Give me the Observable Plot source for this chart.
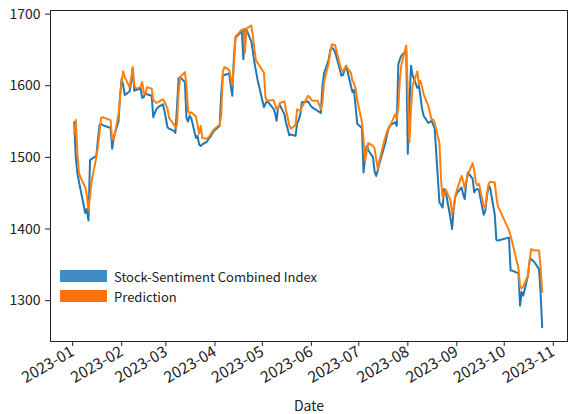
<!DOCTYPE html>
<html>
<head>
<meta charset="utf-8">
<script src="https://cdn.jsdelivr.net/npm/d3@7"></script>
<script src="https://cdn.jsdelivr.net/npm/@observablehq/plot@0.6"></script>
<style>
  html, body { margin: 0; padding: 0; background: #fff; }
  #wrap { position: relative; width: 572px; height: 414px; font-family: "Noto Sans CJK KR", "Noto Sans", sans-serif; }
  #legend { position: absolute; left: 60px; top: 266px; font-size: 13px; color: #222; }
  .item { display: flex; align-items: center; height: 20px; }
  .sw { width: 47px; height: 12px; margin-right: 7px; }
</style>
</head>
<body>
<div id="wrap">
  <div id="chart"></div>
  <div id="legend"></div>
</div>
<script>
const dates = [
"2023-01-02","2023-01-03","2023-01-04","2023-01-05","2023-01-06","2023-01-09","2023-01-10","2023-01-11","2023-01-12","2023-01-13",
"2023-01-16","2023-01-17","2023-01-18","2023-01-19","2023-01-20","2023-01-25","2023-01-26","2023-01-27","2023-01-30","2023-01-31",
"2023-02-01","2023-02-02","2023-02-03","2023-02-06","2023-02-07","2023-02-08","2023-02-09","2023-02-10","2023-02-13","2023-02-14",
"2023-02-15","2023-02-16","2023-02-17","2023-02-20","2023-02-21","2023-02-22","2023-02-23","2023-02-24","2023-02-27","2023-02-28",
"2023-03-02","2023-03-03","2023-03-06","2023-03-07","2023-03-08","2023-03-09","2023-03-10","2023-03-13","2023-03-14","2023-03-15",
"2023-03-16","2023-03-17","2023-03-20","2023-03-21","2023-03-22","2023-03-23","2023-03-24","2023-03-27","2023-03-28","2023-03-29",
"2023-03-30","2023-03-31",
"2023-04-03","2023-04-04","2023-04-05","2023-04-06","2023-04-07","2023-04-10","2023-04-11","2023-04-12","2023-04-13","2023-04-14",
"2023-04-17","2023-04-18","2023-04-19","2023-04-20","2023-04-21","2023-04-24","2023-04-25","2023-04-26","2023-04-27","2023-04-28",
"2023-05-02","2023-05-03","2023-05-04","2023-05-08","2023-05-09","2023-05-10","2023-05-11","2023-05-12","2023-05-15","2023-05-16",
"2023-05-17","2023-05-18","2023-05-19","2023-05-22","2023-05-23","2023-05-24","2023-05-25","2023-05-26","2023-05-30","2023-05-31",
"2023-06-01","2023-06-02","2023-06-05","2023-06-07","2023-06-08","2023-06-09","2023-06-12","2023-06-13","2023-06-14","2023-06-15",
"2023-06-16","2023-06-19","2023-06-20","2023-06-21","2023-06-22","2023-06-23","2023-06-26","2023-06-27","2023-06-28","2023-06-29",
"2023-06-30",
"2023-07-03","2023-07-04","2023-07-05","2023-07-06","2023-07-07","2023-07-10","2023-07-11","2023-07-12","2023-07-13","2023-07-14",
"2023-07-17","2023-07-18","2023-07-19","2023-07-20","2023-07-21","2023-07-24","2023-07-25","2023-07-26","2023-07-27","2023-07-28",
"2023-07-31",
"2023-08-01","2023-08-02","2023-08-03","2023-08-04","2023-08-07","2023-08-08","2023-08-09","2023-08-10","2023-08-11","2023-08-14",
"2023-08-16","2023-08-17","2023-08-18","2023-08-21","2023-08-22","2023-08-23","2023-08-24","2023-08-25","2023-08-28","2023-08-29",
"2023-08-30","2023-08-31",
"2023-09-01","2023-09-04","2023-09-05","2023-09-06","2023-09-07","2023-09-08","2023-09-11","2023-09-12","2023-09-13","2023-09-14",
"2023-09-15","2023-09-18","2023-09-19","2023-09-20","2023-09-21","2023-09-22","2023-09-25","2023-09-26","2023-09-27",
"2023-10-04","2023-10-05","2023-10-06","2023-10-10","2023-10-11","2023-10-12","2023-10-13","2023-10-16","2023-10-17","2023-10-18",
"2023-10-19","2023-10-20","2023-10-23","2023-10-24","2023-10-25"
];

const combinedIndex = [
// Jan
1549,1500,1478,1466,1455,1422,1428,1412,1496,1498,1502,1525,1545,1547,1545,1541,1512,1528,1550,1585,
// Feb
1610,1600,1587,1592,1605,1624,1593,1594,1596,1583,1584,1590,1588,1586,1556,1562,1567,1570,1574,1566,
// Mar
1542,1540,1537,1534,1570,1610,1612,1605,1555,1550,1558,1555,1527,1530,1518,1516,1518,1522,1526,1528,1532,1536,
// Apr
1542,1544,1590,1614,1615,1617,1600,1586,1640,1667,1674,1677,1637,1679,1678,1662,1648,1632,1620,1608,
// May
1570,1575,1579,1568,1562,1551,1570,1573,1560,1548,1540,1531,1532,1530,1547,1552,1560,1577,1578,1574,
// Jun
1571,1569,1565,1562,1600,1617,1637,1650,1653,1651,1647,1623,1614,1615,1622,1628,1600,1591,1594,1570,1547,
// Jul
1541,1479,1500,1516,1510,1500,1480,1474,1482,1491,1514,1522,1533,1542,1545,1549,1544,1630,1637,1642,1649,
// Aug
1505,1570,1628,1615,1597,1600,1585,1568,1558,1548,1551,1546,1540,1437,1434,1430,1456,1452,1415,1400,1428,1445,
// Sep
1450,1458,1448,1442,1465,1479,1470,1451,1455,1456,1454,1420,1425,1445,1460,1458,1420,1385,1384,
// Oct
1388,1342,1342,1338,1293,1312,1307,1335,1355,1358,1356,1354,1344,1310,1263
];

const prediction = [
// Jan
1533,1552,1505,1478,1472,1458,1447,1426,1445,1467,1500,1515,1535,1555,1556,1552,1525,1525,1560,1585,
// Feb
1605,1620,1612,1598,1610,1626,1600,1596,1598,1605,1590,1588,1598,1596,1580,1578,1576,1577,1581,1578,
// Mar
1568,1555,1546,1542,1545,1590,1612,1619,1600,1565,1561,1563,1557,1545,1533,1544,1527,1526,1528,1531,1535,1538,
// Apr
1544,1545,1560,1620,1626,1622,1612,1600,1630,1668,1676,1678,1679,1646,1680,1684,1670,1650,1635,1632,
// May
1618,1583,1579,1580,1574,1567,1568,1576,1578,1565,1556,1545,1540,1545,1567,1566,1565,1570,1586,1584,
// Jun
1580,1579,1579,1567,1575,1605,1632,1648,1658,1657,1657,1630,1622,1620,1624,1627,1618,1607,1603,1596,1580,
// Jul
1549,1525,1495,1508,1520,1516,1512,1498,1484,1495,1522,1530,1537,1540,1545,1560,1553,1570,1610,1630,1656,
// Aug
1590,1521,1565,1600,1620,1602,1607,1598,1588,1572,1553,1553,1548,1520,1470,1444,1449,1455,1440,1420,1430,1446,
// Sep
1454,1474,1467,1457,1466,1476,1492,1482,1465,1461,1463,1432,1430,1448,1462,1466,1465,1445,1432,
// Oct
1398,1391,1382,1345,1320,1317,1320,1335,1355,1372,1371,1370,1370,1345,1312
];

const seriesNames = ["Stock-Sentiment Combined Index", "Prediction"];
const seriesColors = ["#1f77b4", "#ff7f0e"];
const legendColors = ["#3f8cc6", "#ff7010"];
const xTickLabels = ["2023-01","2023-02","2023-03","2023-04","2023-05","2023-06","2023-07","2023-08","2023-09","2023-10","2023-11"];
const yTickValues = [1300, 1400, 1500, 1600, 1700];
const xLabel = "Date";

const rows = dates.map((d, i) => ({date: new Date(d), actual: combinedIndex[i], pred: prediction[i]}));
const xTicks = xTickLabels.map(s => new Date(s + "-01"));

const chart = Plot.plot({
  width: 572,
  height: 414,
  marginLeft: 50,
  marginRight: 5,
  marginTop: 10,
  marginBottom: 73,
  style: {fontFamily: '"Noto Sans CJK KR", "Noto Sans", sans-serif', fontSize: "14px", color: "#222", background: "white", overflow: "visible"},
  x: {type: "utc", domain: [new Date("2022-12-18"), new Date("2023-11-10")]},
  y: {domain: [1243, 1705]},
  marks: [
    Plot.lineY(rows, {x: "date", y: "actual", stroke: seriesColors[0], strokeWidth: 2}),
    Plot.lineY(rows, {x: "date", y: "pred", stroke: seriesColors[1], strokeWidth: 2}),
    Plot.frame({stroke: "#222", strokeWidth: 1}),
    Plot.axisY({ticks: yTickValues, tickSize: 5, tickPadding: 5, label: null, tickFormat: d => String(d)}),
    Plot.axisX({ticks: xTicks, tickSize: 5, tickPadding: 4, tickRotate: -30, fontSize: 15.5, label: null, tickFormat: d3.utcFormat("%Y-%m")}),
    Plot.text([xLabel], {text: d => d, frameAnchor: "bottom", dy: 69, fontSize: 14})
  ]
});
document.getElementById("chart").appendChild(chart);

const legend = document.getElementById("legend");
seriesNames.forEach((name, i) => {
  const item = document.createElement("div");
  item.className = "item";
  const sw = document.createElement("div");
  sw.className = "sw";
  sw.style.background = legendColors[i];
  const label = document.createElement("span");
  label.textContent = name;
  item.appendChild(sw);
  item.appendChild(label);
  legend.appendChild(item);
});
</script>
</body>
</html>
